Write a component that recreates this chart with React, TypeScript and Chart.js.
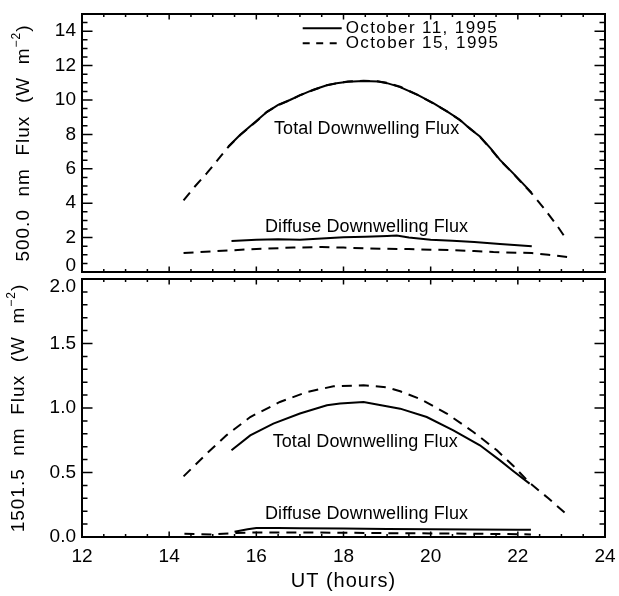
import React, { useEffect, useRef } from 'react';
import { Chart, registerables } from 'chart.js';

Chart.register(...registerables);

const FONT = '"Liberation Sans", Arial, Helvetica, sans-serif';

// ---------- data (UT hours / flux W m^-2) ----------
// 500.0 nm, total downwelling, October 15, 1995 (dashed)
const top15TotalHours = [14.33, 14.6, 14.86, 15.17, 15.36, 15.63, 16.0, 16.24, 16.5, 16.77, 17.0, 17.31, 17.6, 17.84, 18.1, 18.46, 18.8, 19.0, 19.3, 19.7, 20.06, 20.4, 20.67, 20.9, 21.13, 21.38, 21.59, 21.9, 22.32, 22.6, 22.9, 23.13];
const top15TotalFlux = [4.17, 5.0, 5.73, 6.69, 7.28, 7.96, 8.75, 9.31, 9.7, 9.99, 10.28, 10.58, 10.85, 10.97, 11.07, 11.12, 11.08, 11.0, 10.77, 10.3, 9.8, 9.3, 8.83, 8.35, 7.86, 7.15, 6.5, 5.7, 4.56, 3.7, 2.7, 1.84];
// 500.0 nm, total downwelling, October 11, 1995 (solid)
const top11TotalHours = [15.36, 15.63, 16.0, 16.24, 16.5, 16.77, 17.0, 17.31, 17.6, 17.84, 18.1, 18.46, 18.8, 19.0, 19.3, 19.7, 20.06, 20.4, 20.67, 20.9, 21.13, 21.38, 21.59, 21.9, 22.32];
const top11TotalFlux = [7.3, 7.98, 8.78, 9.3, 9.72, 10.0, 10.27, 10.6, 10.84, 10.98, 11.06, 11.1, 11.07, 10.98, 10.75, 10.3, 9.82, 9.3, 8.85, 8.33, 7.88, 7.17, 6.52, 5.72, 4.6];
// 500.0 nm, diffuse downwelling, October 11 (solid)
const top11DiffuseHours = [15.43, 16.0, 16.5, 17.0, 17.5, 18.0, 18.5, 19.0, 19.22, 19.5, 20.0, 20.5, 21.0, 21.59, 22.0, 22.32];
const top11DiffuseFlux = [1.8, 1.88, 1.9, 1.88, 1.95, 2.02, 2.05, 2.1, 2.12, 2.0, 1.88, 1.82, 1.75, 1.63, 1.55, 1.49];
// 500.0 nm, diffuse downwelling, October 15 (dashed)
const top15DiffuseHours = [14.33, 15.0, 15.5, 16.0, 16.85, 17.5, 18.0, 18.53, 19.0, 19.5, 20.0, 20.5, 21.0, 21.44, 22.0, 22.32, 22.7, 23.13];
const top15DiffuseFlux = [1.1, 1.2, 1.27, 1.34, 1.42, 1.45, 1.42, 1.37, 1.35, 1.33, 1.3, 1.27, 1.22, 1.16, 1.12, 1.1, 1.0, 0.87];

// 1501.5 nm, total downwelling, October 15 (dashed)
const bot15TotalHours = [14.33, 14.86, 15.32, 15.86, 16.54, 17.16, 17.77, 18.46, 19.0, 19.3, 19.76, 20.37, 20.98, 21.52, 21.9, 22.27, 22.7, 23.1];
const bot15TotalFlux = [0.47, 0.646, 0.79, 0.93, 1.047, 1.124, 1.168, 1.176, 1.16, 1.13, 1.07, 0.957, 0.814, 0.672, 0.55, 0.42, 0.3, 0.181];
// 1501.5 nm, total downwelling, October 11 (solid)
const bot11TotalHours = [15.43, 15.86, 16.39, 17.0, 17.62, 17.92, 18.46, 19.3, 19.91, 20.52, 21.13, 21.59, 21.9, 22.27];
const bot11TotalFlux = [0.672, 0.788, 0.879, 0.957, 1.021, 1.034, 1.047, 0.995, 0.93, 0.827, 0.711, 0.594, 0.51, 0.414];
// 1501.5 nm, diffuse downwelling, October 11 (solid)
const bot11DiffuseHours = [15.5, 15.8, 16.0, 16.5, 17.0, 18.0, 19.0, 20.0, 21.0, 22.0, 22.3];
const bot11DiffuseFlux = [0.04, 0.06, 0.07, 0.07, 0.068, 0.065, 0.062, 0.06, 0.058, 0.057, 0.057];
// 1501.5 nm, diffuse downwelling, October 15 (dashed)
const bot15DiffuseHours = [14.35, 15.0, 15.5, 16.0, 17.0, 18.0, 19.0, 20.0, 21.0, 22.0, 22.3];
const bot15DiffuseFlux = [0.025, 0.02, 0.03, 0.035, 0.035, 0.033, 0.03, 0.028, 0.025, 0.022, 0.02];

// ---------- axes / text ----------
const xTickValues = [12, 14, 16, 18, 20, 22, 24];
const topYTicks = [0, 2, 4, 6, 8, 10, 12, 14];
const bottomYTicks = [0, 0.5, 1.0, 1.5, 2.0];
const legendLabels = ['October 11, 1995', 'October 15, 1995'];
const curveLabels = ['Total Downwelling Flux', 'Diffuse Downwelling Flux'];
const topTitle = '500.0  nm  Flux  (W  m';
const bottomTitle = '1501.5  nm  Flux  (W  m';
const xTitle = 'UT (hours)';
// label anchors in data units [hours, flux]
const topLabelAnchors = [[18.53, 8.31], [18.53, 2.62]];
const bottomLabelAnchors = [[18.5, 0.736], [18.53, 0.176]];

const pts = (xs: number[], ys: number[]) => xs.map((x, i) => ({ x, y: ys[i] }));

const DASH = [10, 7];

function setLS(ctx: any, v: string) {
  if ('letterSpacing' in ctx) ctx.letterSpacing = v;
}

function lineDs(data: any[], dashed: boolean) {
  return {
    data,
    borderColor: '#000',
    borderWidth: 2,
    borderDash: dashed ? DASH : [],
    pointRadius: 0,
    tension: 0,
    fill: false,
  };
}

function frameTicksPlugin(yMin: number, yMax: number, yMinor: number, yMajor: number[]) {
  return {
    id: 'frameTicks',
    afterDatasetsDraw(chart: any) {
      const { ctx, chartArea: a, scales } = chart;
      const xs = scales.x;
      const ys = scales.y;
      ctx.save();
      ctx.strokeStyle = '#000';
      ctx.lineWidth = 1.5;
      ctx.beginPath();
      const nx = Math.round((24 - 12) / 0.5);
      for (let i = 0; i <= nx; i++) {
        const v = 12 + i * 0.5;
        const major = xTickValues.some((t) => Math.abs(t - v) < 1e-6);
        const len = major ? 5.5 : 3;
        const px = xs.getPixelForValue(v);
        ctx.moveTo(px, a.bottom);
        ctx.lineTo(px, a.bottom - len);
        ctx.moveTo(px, a.top);
        ctx.lineTo(px, a.top + len);
      }
      const ny = Math.round((yMax - yMin) / yMinor);
      for (let i = 0; i <= ny; i++) {
        const v = yMin + i * yMinor;
        const major = yMajor.some((t) => Math.abs(t - v) < 1e-6);
        const len = major ? 10.5 : 5.5;
        const py = ys.getPixelForValue(v);
        ctx.moveTo(a.left, py);
        ctx.lineTo(a.left + len, py);
        ctx.moveTo(a.right, py);
        ctx.lineTo(a.right - len, py);
      }
      ctx.stroke();
      ctx.lineWidth = 2;
      ctx.strokeRect(a.left, a.top, a.right - a.left, a.bottom - a.top);
      ctx.restore();
    },
  };
}

function drawYTitle(ctx: any, main: string, cx: number, cy: number) {
  ctx.save();
  ctx.translate(cx, cy);
  ctx.rotate(-Math.PI / 2);
  ctx.fillStyle = '#000';
  ctx.textBaseline = 'middle';
  ctx.textAlign = 'left';
  setLS(ctx, '1px');
  ctx.font = `19px ${FONT}`;
  const w1 = ctx.measureText(main).width;
  ctx.font = `12px ${FONT}`;
  const w2 = ctx.measureText('\u22122').width;
  ctx.font = `19px ${FONT}`;
  const w3 = ctx.measureText(')').width;
  let x = -(w1 + w2 + w3) / 2;
  ctx.fillText(main, x, 0);
  x += w1;
  ctx.font = `12px ${FONT}`;
  ctx.fillText('\u22122', x, -7);
  x += w2;
  ctx.font = `19px ${FONT}`;
  ctx.fillText(')', x, 0);
  ctx.restore();
}

function textPlugin(kind: 'top' | 'bottom') {
  return {
    id: 'texts',
    afterDraw(chart: any) {
      const { ctx, chartArea: a, scales } = chart;
      const xs = scales.x;
      const ys = scales.y;
      ctx.save();
      ctx.fillStyle = '#000';
      // curve labels
      const anchors = kind === 'top' ? topLabelAnchors : bottomLabelAnchors;
      ctx.font = `18px ${FONT}`;
      setLS(ctx, '0.1px');
      ctx.textAlign = 'center';
      ctx.textBaseline = 'middle';
      anchors.forEach((p, i) => {
        ctx.fillText(curveLabels[i], xs.getPixelForValue(p[0]), ys.getPixelForValue(p[1]));
      });
      if (kind === 'top') {
        // legend
        const lx0 = a.left + 220.7;
        const lx1 = a.left + 259.7;
        const rows = [a.top + 14.3, a.top + 29.3];
        ctx.strokeStyle = '#000';
        ctx.lineWidth = 2;
        rows.forEach((ry, i) => {
          ctx.beginPath();
          ctx.setLineDash(i === 0 ? [] : [7, 6.5]);
          ctx.moveTo(lx0, ry);
          ctx.lineTo(lx1, ry);
          ctx.stroke();
        });
        ctx.setLineDash([]);
        ctx.font = `17px ${FONT}`;
        setLS(ctx, '1.4px');
        ctx.textAlign = 'left';
        rows.forEach((ry, i) => ctx.fillText(legendLabels[i], lx1 + 4, ry));
        drawYTitle(ctx, topTitle, 24, (a.top + a.bottom) / 2);
      } else {
        ctx.font = `20px ${FONT}`;
        setLS(ctx, '1px');
        ctx.textAlign = 'center';
        ctx.textBaseline = 'middle';
        ctx.fillText(xTitle, (a.left + a.right) / 2, a.bottom + 44);
        drawYTitle(ctx, bottomTitle, 19, (a.top + a.bottom) / 2);
      }
      ctx.restore();
    },
  };
}

function makeConfig(kind: 'top' | 'bottom'): any {
  const isTop = kind === 'top';
  const yTicks = isTop ? topYTicks : bottomYTicks;
  const datasets = isTop
    ? [
        lineDs(pts(top15TotalHours, top15TotalFlux), true),
        lineDs(pts(top11TotalHours, top11TotalFlux), false),
        lineDs(pts(top15DiffuseHours, top15DiffuseFlux), true),
        lineDs(pts(top11DiffuseHours, top11DiffuseFlux), false),
      ]
    : [
        lineDs(pts(bot15TotalHours, bot15TotalFlux), true),
        lineDs(pts(bot11TotalHours, bot11TotalFlux), false),
        lineDs(pts(bot15DiffuseHours, bot15DiffuseFlux), true),
        lineDs(pts(bot11DiffuseHours, bot11DiffuseFlux), false),
      ];
  const edgeValue = isTop ? 0 : 2;
  return {
    type: 'line',
    data: { datasets },
    options: {
      animation: false,
      responsive: false,
      devicePixelRatio: 1,
      layout: { padding: isTop ? { left: 0, right: 14, top: 14, bottom: 8 } : { left: 0, right: 14, top: 5, bottom: 0 } },
      plugins: { legend: { display: false }, tooltip: { enabled: false }, title: { display: false } },
      scales: {
        x: {
          type: 'linear',
          min: 12,
          max: 24,
          grid: { display: false, drawTicks: false, tickLength: 0 },
          border: { display: false },
          afterBuildTicks: (s: any) => {
            s.ticks = xTickValues.map((v) => ({ value: v }));
          },
          afterFit: (s: any) => {
            s.height = isTop ? 0 : 59;
            s.paddingLeft = 0;
            s.paddingRight = 0;
          },
          ticks: {
            display: !isTop,
            autoSkip: false,
            maxRotation: 0,
            color: '#000',
            padding: 8,
            font: { family: FONT, size: 19 },
            callback: (v: number) => String(v),
          },
        },
        y: {
          type: 'linear',
          min: 0,
          max: isTop ? 15 : 2,
          grid: { display: false, drawTicks: false, tickLength: 0 },
          border: { display: false },
          afterBuildTicks: (s: any) => {
            s.ticks = yTicks.map((v) => ({ value: v }));
          },
          afterFit: (s: any) => {
            s.width = 82;
            s.paddingTop = 0;
            s.paddingBottom = 0;
          },
          ticks: {
            autoSkip: false,
            color: '#000',
            padding: 6,
            font: (c: any) => {
              const isEdge = c.tick && Math.abs(c.tick.value - edgeValue) < 1e-6;
              return { family: FONT, size: 19, lineHeight: isEdge ? (isTop ? '13px' : '16px') : 1.2 };
            },
            callback: (v: number) => {
              const s = isTop ? String(v) : v.toFixed(1);
              if (Math.abs(v - edgeValue) < 1e-6) return isTop ? [s, ''] : ['', s];
              return s;
            },
          },
        },
      },
    },
    plugins: [
      isTop ? frameTicksPlugin(0, 15, 0.5, topYTicks) : frameTicksPlugin(0, 2, 0.1, bottomYTicks),
      textPlugin(kind),
    ],
  };
}

export default function App() {
  const topRef = useRef<HTMLCanvasElement>(null);
  const botRef = useRef<HTMLCanvasElement>(null);

  useEffect(() => {
    const c1 = new Chart(topRef.current as HTMLCanvasElement, makeConfig('top'));
    const c2 = new Chart(botRef.current as HTMLCanvasElement, makeConfig('bottom'));
    return () => {
      c1.destroy();
      c2.destroy();
    };
  }, []);

  return (
    <div style={{ position: 'absolute', left: 0, top: 0, width: 619, height: 596, background: '#fff' }}>
      <canvas ref={topRef} width={619} height={280} style={{ position: 'absolute', left: 0, top: 0, width: 619, height: 280 }} />
      <canvas ref={botRef} width={619} height={322} style={{ position: 'absolute', left: 0, top: 274, width: 619, height: 322 }} />
    </div>
  );
}
